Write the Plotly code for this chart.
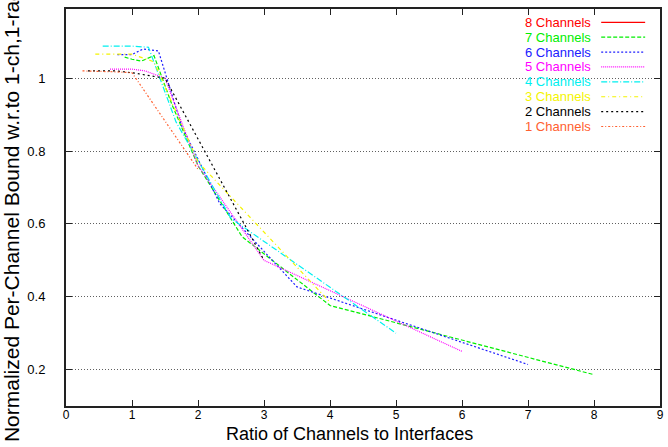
import plotly.graph_objects as go

# ---- data ----
names = ["8 Channels", "7 Channels", "6 Channels", "5 Channels",
         "4 Channels", "3 Channels", "2 Channels", "1 Channels"]

# the 8-channel series has no visible line in the reference (legend entry only)
x8 = [None]
y8 = [None]
x7 = [0.889, 1.0, 1.143, 1.333, 1.6, 2.0, 2.667, 4.0, 8.0]
y7 = [1.058, 1.052, 1.047, 1.062, 0.93, 0.76, 0.565, 0.376, 0.186]
x6 = [0.778, 0.875, 1.0, 1.167, 1.4, 1.75, 2.333, 3.5, 7.0]
y6 = [1.065, 1.065, 1.065, 1.08, 1.075, 0.87, 0.655, 0.427, 0.214]
x5 = [0.667, 0.75, 0.857, 1.0, 1.2, 1.5, 2.0, 3.0, 6.0]
y5 = [1.025, 1.025, 1.025, 1.025, 1.02, 1.0, 0.76, 0.50, 0.25]
x4 = [0.556, 0.625, 0.714, 0.833, 1.0, 1.25, 1.667, 2.5, 5.0]
y4 = [1.088, 1.088, 1.088, 1.088, 1.088, 1.085, 0.88, 0.615, 0.30]
x3 = [0.444, 0.5, 0.571, 0.667, 0.8, 1.0, 1.333, 2.0, 4.0]
y3 = [1.066, 1.066, 1.066, 1.066, 1.066, 1.066, 1.045, 0.77, 0.385]
x2 = [0.333, 0.375, 0.429, 0.5, 0.6, 0.75, 1.0, 1.5, 3.0]
y2 = [1.02, 1.02, 1.02, 1.02, 1.02, 1.02, 1.015, 1.0, 0.50]
x1 = [0.25, 0.286, 0.333, 0.4, 0.5, 0.667, 1.0, 2.0]
y1 = [1.02, 1.02, 1.02, 1.02, 1.02, 1.018, 1.015, 0.75]

xs = [x8, x7, x6, x5, x4, x3, x2, x1]
ys = [y8, y7, y6, y5, y4, y3, y2, y1]

x_ticks = [0, 1, 2, 3, 4, 5, 6, 7, 8, 9]
y_ticks = [0.2, 0.4, 0.6, 0.8, 1.0]
y_ticktext = ["0.2", "0.4", "0.6", "0.8", "1"]

x_title = "Ratio of Channels to Interfaces"
y_title = "Normalized Per-Channel Bound w.r.to 1-ch,1-radio"

# ---- styles ----
colors = ["#ff0000", "#00ee00", "#2020ff", "#ff00ff",
          "#00f0f0", "#f4f400", "#000000", "#ff6030"]
dashes = ["solid", "4px,2px", "2px,2px", "1px,1px",
          "6px,2px,1px,2px", "4px,3px,1px,3px", "2px,3px", "2px,2px,1px,2px"]

FONT = "Liberation Sans, Arial, Helvetica, sans-serif"

fig = go.Figure()
for n, x, y, c, d in zip(names, xs, ys, colors, dashes):
    fig.add_trace(go.Scatter(
        x=x, y=y, mode="lines", name=n, showlegend=False,
        line=dict(color=c, width=1.2, dash=d),
    ))

# gnuplot-style key: coloured right-aligned label, line sample to its right
key_text_x = 0.888
key_line_x0, key_line_x1 = 0.901, 0.975
key_y0, key_step = 0.9665, 0.0375
annotations = []
shapes = []
for i, (n, c, d) in enumerate(zip(names, colors, dashes)):
    yy = key_y0 - i * key_step
    annotations.append(dict(
        x=key_text_x, y=yy, xref="paper", yref="paper", text=n,
        showarrow=False, xanchor="right", yanchor="middle",
        font=dict(size=13, family=FONT, color=c)))
    shapes.append(dict(
        type="line", xref="paper", yref="paper",
        x0=key_line_x0, x1=key_line_x1, y0=yy, y1=yy,
        line=dict(color=c, width=1.2, dash=d)))

annotations.append(dict(
    x=0.478, y=0, xref="paper", yref="paper", text=x_title,
    showarrow=False, xanchor="center", yanchor="bottom", yshift=-40,
    font=dict(size=18, family=FONT, color="black")))

fig.update_layout(
    width=668, height=447,
    margin=dict(l=66, r=4, t=9, b=41),
    paper_bgcolor="white", plot_bgcolor="white",
    font=dict(family=FONT, size=13, color="black"),
    showlegend=False,
    annotations=annotations,
    shapes=shapes,
)

fig.update_xaxes(
    range=[0, 9], tickvals=x_ticks, ticktext=[str(t) for t in x_ticks],
    ticks="inside", ticklen=6, tickcolor="#222", tickwidth=1,
    showline=True, linecolor="#222", linewidth=2, mirror="ticks",
    showgrid=False, zeroline=False,
    tickfont=dict(size=12, family=FONT),
    ticklabelstandoff=-3,
)
fig.update_yaxes(
    range=[0.1, 1.19], tickvals=y_ticks, ticktext=y_ticktext,
    ticks="inside", ticklen=6, tickcolor="#222", tickwidth=1,
    showline=True, linecolor="#222", linewidth=2, mirror="ticks",
    showgrid=True, gridcolor="#606060", griddash="1px,2px", gridwidth=1,
    zeroline=False,
    tickfont=dict(size=13, family=FONT),
    title=dict(text=y_title, font=dict(size=21, family=FONT), standoff=8),
    ticklabelstandoff=16,
)

fig.write_html("out.html")
